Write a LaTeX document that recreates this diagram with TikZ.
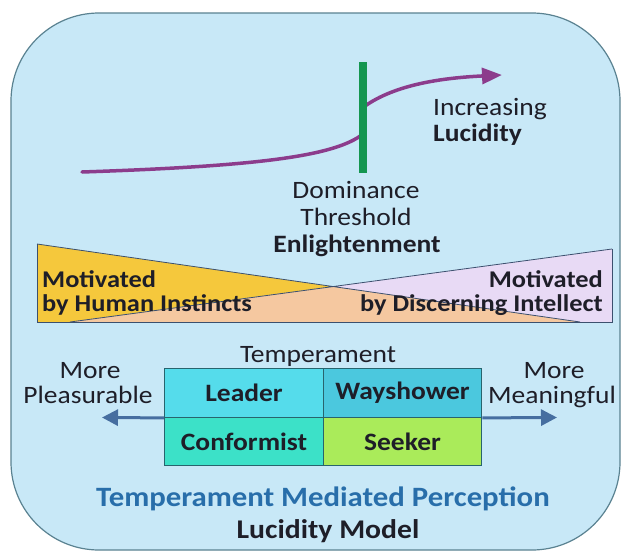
\documentclass[tikz,border=0pt]{standalone}
\usepackage{fontspec}
\setmainfont{Carlito}[FakeStretch=1.1]
\usetikzlibrary{arrows.meta}
\definecolor{bgblue}{RGB}{200,232,247}
\definecolor{bordergray}{RGB}{90,130,145}
\definecolor{curvepurple}{RGB}{140,60,140}
\definecolor{thgreen}{RGB}{20,150,80}
\definecolor{wyellow}{RGB}{245,200,60}
\definecolor{wlav}{RGB}{232,218,245}
\definecolor{wpeach}{RGB}{245,200,160}
\definecolor{bandline}{RGB}{60,80,110}
\definecolor{cleader}{RGB}{85,220,235}
\definecolor{cway}{RGB}{75,200,222}
\definecolor{cconf}{RGB}{60,225,200}
\definecolor{cseek}{RGB}{170,235,90}
\definecolor{cellline}{RGB}{40,100,110}
\definecolor{arrblue}{RGB}{70,110,160}
\definecolor{titleblue}{RGB}{40,110,170}
\definecolor{txt}{RGB}{30,30,40}
\tikzset{
  lbl/.style={text=txt, inner sep=0pt, font=\fontsize{25}{30}\selectfont},
  blbl/.style={lbl, font=\fontsize{25}{30}\selectfont\bfseries},
  bandlbl/.style={lbl, font=\fontsize{24}{28}\selectfont\bfseries},
  cell/.style={draw=cellline, line width=1.3pt, minimum width=158.5pt, minimum height=48.5pt,
     inner sep=0pt, text=txt, font=\fontsize{25}{30}\selectfont\bfseries},
  bluearr/.style={draw=arrblue, line width=3pt, -{Triangle[length=16pt,width=16pt]}},
}
\begin{document}
\begin{tikzpicture}[x=1pt,y=-1pt]
\useasboundingbox (0,0) rectangle (624,554);
\fill[white] (0,0) rectangle (624,554);
\draw[draw=bordergray, fill=bgblue, line width=1.2pt, rounded corners=88pt] (11,13) rectangle (620,550);

% lucidity curve
\coordinate (cstart) at (82,172);
\coordinate (cin) at (363,134);
\coordinate (cout) at (365,106);
\coordinate (ctip) at (502,75);
\draw[curvepurple, line width=3.5pt, line cap=round] (cstart) .. controls (260,166) and (335,156) .. (cin) -- (cout);
\draw[curvepurple, line width=3.5pt, -{Triangle[length=20pt,width=16pt]}] (cout) .. controls (395,85) and (440,78) .. (ctip);
\coordinate (gtop) at (363,62);
\coordinate (gbot) at (363,173);
\draw[thgreen, line width=7.5pt] (gtop) -- (gbot);

\node[lbl, anchor=base west] (inc) at (433,115) {Increasing};
\node[blbl, anchor=base west] (luc) at (433,141) {Lucidity};
\node[lbl, anchor=base] (dom) at (356,198) {Dominance};
\node[lbl, anchor=base] (thr) at (356,225) {Threshold};
\node[blbl, anchor=base] (enl) at (357,252) {Enlightenment};

% motivation band
\coordinate (A) at (37,244);
\coordinate (B) at (37,322);
\coordinate (C) at (612,249);
\coordinate (D) at (612,322);
\coordinate (Dp) at (580,322);
\coordinate (Bp) at (70,322);
\coordinate (P) at (intersection of A--Dp and C--Bp);
\fill[wyellow] (A) -- (B) -- (Dp) -- cycle;
\fill[wlav] (C) -- (D) -- (Bp) -- cycle;
\fill[wpeach] (Bp) -- (P) -- (Dp) -- cycle;
\draw[bandline, line width=0.8pt] (A) -- (Dp) (C) -- (Bp);
\draw[bandline, line width=1pt] (A) -- (B) -- (D) -- (C);

\node[bandlbl, anchor=base west] (mh1) at (42,287) {Motivated};
\node[bandlbl, anchor=base west] (mh2) at (42,311) {by Human Instincts};
\node[bandlbl, anchor=base east] (md1) at (603,287) {Motivated};
\node[bandlbl, anchor=base east] (md2) at (603,311) {by Discerning Intellect};

% temperament grid
\node[lbl, anchor=base] (temp) at (318,362) {Temperament};
\node[cell, fill=cleader] (leader) at (244,393) {Leader};
\node[cell, fill=cway] (way) at (402.5,393) {Wayshower};
\node[cell, fill=cconf] (conf) at (244,441.5) {Conformist};
\node[cell, fill=cseek] (seek) at (402.5,441.5) {Seeker};

\coordinate (ltip) at (102,417.5);
\coordinate (rtip) at (557,417.5);
\draw[bluearr] (leader.south west) -- (ltip);
\draw[bluearr] (way.south east) -- (rtip);

\node[lbl, anchor=base] (moreL) at (90,378) {More};
\node[lbl, anchor=base] (pleas) at (88,403) {Pleasurable};
\node[lbl, anchor=base] (moreR) at (554,378) {More};
\node[lbl, anchor=base] (mean) at (552,403) {Meaningful};

\node[blbl, text=titleblue, font=\fontsize{28}{32}\selectfont\bfseries, anchor=base] (title) at (323,506) {Temperament Mediated Perception};
\node[blbl, anchor=base, font=\fontsize{27}{32}\selectfont\bfseries] (model) at (328,538) {Lucidity Model};
\end{tikzpicture}
\end{document}
